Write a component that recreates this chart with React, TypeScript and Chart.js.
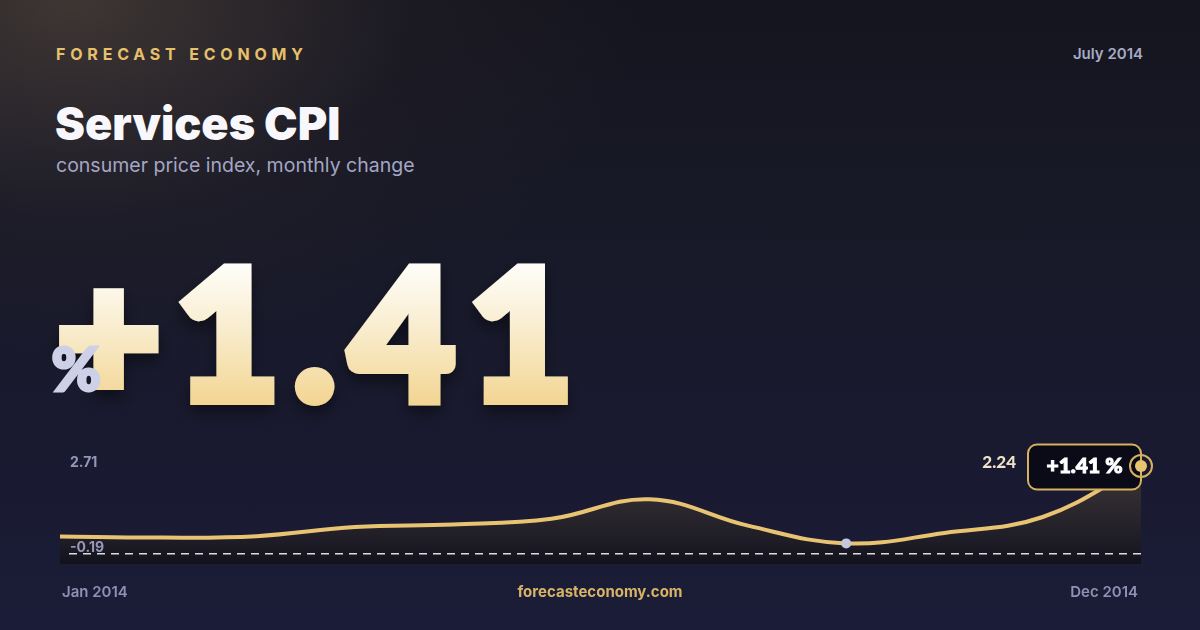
import React, { useEffect, useRef } from "react";
import { Chart, registerables } from "chart.js";

Chart.register(...registerables);

// ---- data ----
const MONTHS = [
  "Jan 2014", "Feb 2014", "Mar 2014", "Apr 2014", "May 2014", "Jun 2014",
  "Jul 2014", "Aug 2014", "Sep 2014", "Oct 2014", "Nov 2014", "Dec 2014",
];
const CPI_VALUES = [0.29, 0.26, 0.3, 0.55, 0.62, 0.78, 1.32, 0.59, 0.1, 0.39, 0.83, 2.24];
const RANGE_LABELS = [2.71, -0.19]; // top label, dashed baseline label
const AXIS_MIN = -0.47;
const HEADLINE_VALUE = 1.41;
const PERIOD_LABEL = "July 2014";

const GOLD = "#e8c372";
const INTER = "Inter, 'Noto Sans', sans-serif";
const LATO = "Lato, 'DejaVu Sans', sans-serif";

const fmtSigned = (v: number) => (v >= 0 ? "+" : "") + v.toFixed(2);

const overlayPlugin = {
  id: "overlay",
  afterDatasetsDraw(chart: any) {
    const { ctx, chartArea, scales } = chart;
    const ys = scales.y;
    const meta = chart.getDatasetMeta(0);
    const pts = meta.data;
    ctx.save();

    // dashed baseline at lower range value
    const by = ys.getPixelForValue(RANGE_LABELS[1]);
    ctx.setLineDash([8, 6]);
    ctx.strokeStyle = "rgba(255,255,255,0.85)";
    ctx.lineWidth = 1.5;
    ctx.beginPath();
    ctx.moveTo(chartArea.left + 9, by);
    ctx.lineTo(chartArea.right + 5, by);
    ctx.stroke();
    ctx.setLineDash([]);

    // range labels
    ctx.font = `700 14px ${INTER}`;
    ctx.fillStyle = "#9597b9";
    ctx.textAlign = "left";
    ctx.textBaseline = "alphabetic";
    ctx.fillText(RANGE_LABELS[0].toFixed(2), chartArea.left + 10, ys.getPixelForValue(RANGE_LABELS[0]) + 17.7);
    ctx.fillText(RANGE_LABELS[1].toFixed(2), chartArea.left + 10, by - 1.5);

    // minimum point marker
    let minIdx = 0;
    CPI_VALUES.forEach((v, i) => {
      if (v < CPI_VALUES[minIdx]) minIdx = i;
    });
    const mp = pts[minIdx];
    ctx.fillStyle = "#c4c7df";
    ctx.beginPath();
    ctx.arc(mp.x, mp.y, 5, 0, Math.PI * 2);
    ctx.fill();

    // end badge
    const last = pts[pts.length - 1];
    const bw = 113;
    const bh = 45;
    const bx = last.x - bw;
    const byy = last.y - bh / 2 + 1;
    ctx.beginPath();
    ctx.roundRect(bx, byy, bw, bh, 9);
    ctx.fillStyle = "#0a0b17";
    ctx.fill();
    ctx.strokeStyle = "#d6b160";
    ctx.lineWidth = 2;
    ctx.stroke();

    ctx.lineJoin = "miter";
    ctx.font = `900 21px ${LATO}`;
    ctx.fillStyle = "#ffffff";
    ctx.strokeStyle = "#ffffff";
    ctx.lineWidth = 1;
    ctx.textAlign = "center";
    const badgeText = fmtSigned(HEADLINE_VALUE) + " %";
    ctx.fillText(badgeText, bx + bw / 2, last.y + 6.6);
    ctx.strokeText(badgeText, bx + bw / 2, last.y + 6.6);

    ctx.font = `900 17px ${LATO}`;
    ctx.fillStyle = "#efe2c6";
    ctx.textAlign = "right";
    const lastText = CPI_VALUES[CPI_VALUES.length - 1].toFixed(2);
    ctx.fillText(lastText, bx - 12, last.y + 1.8);

    // end ring marker
    ctx.strokeStyle = "#d6b160";
    ctx.lineWidth = 2;
    ctx.beginPath();
    ctx.arc(last.x, last.y, 11, 0, Math.PI * 2);
    ctx.stroke();
    ctx.fillStyle = GOLD;
    ctx.beginPath();
    ctx.arc(last.x, last.y, 6, 0, Math.PI * 2);
    ctx.fill();

    // first / last category labels
    ctx.font = `600 15px ${INTER}`;
    ctx.fillStyle = "#8e91b3";
    ctx.textAlign = "left";
    ctx.fillText(MONTHS[0], pts[0].x + 2, chartArea.bottom + 32.7);
    ctx.textAlign = "right";
    ctx.fillText(MONTHS[MONTHS.length - 1], last.x - 3, chartArea.bottom + 32.7);

    ctx.restore();
  },
};

function SparkChart() {
  const ref = useRef<HTMLCanvasElement | null>(null);
  useEffect(() => {
    if (!ref.current) return;
    const chart = new Chart(ref.current, {
      type: "line",
      data: {
        labels: MONTHS,
        datasets: [
          {
            data: CPI_VALUES,
            borderColor: GOLD,
            borderWidth: 4,
            tension: 0.4,
            pointRadius: 0,
            fill: "start",
            backgroundColor: (context: any) => {
              const { chart } = context;
              const area = chart.chartArea;
              if (!area) return "rgba(0,0,0,0)";
              const g = chart.ctx.createLinearGradient(0, area.top, 0, area.bottom);
              g.addColorStop(0, "#463d32");
              g.addColorStop(0.45, "#2f2a2f");
              g.addColorStop(0.8, "#1e1c26");
              g.addColorStop(1, "#12121d");
              return g;
            },
          },
        ],
      },
      options: {
        animation: false,
        responsive: false,
        devicePixelRatio: 1,
        layout: { padding: { left: 60, right: 59, top: 29, bottom: 66 } },
        plugins: { legend: { display: false }, tooltip: { enabled: false } },
        scales: {
          x: { display: false },
          y: { display: false, min: AXIS_MIN, max: RANGE_LABELS[0] },
        },
      },
      plugins: [overlayPlugin],
    });
    return () => chart.destroy();
  }, []);
  return (
    <canvas
      ref={ref}
      width={1200}
      height={210}
      style={{ position: "absolute", left: 0, top: 420, width: 1200, height: 210 }}
    />
  );
}

function BigValue() {
  return (
    <svg
      width={1200}
      height={630}
      style={{ position: "absolute", left: 0, top: 0, overflow: "visible" }}
    >
      <defs>
        <linearGradient id="bigGrad" gradientUnits="userSpaceOnUse" x1="0" y1="262" x2="0" y2="408">
          <stop offset="0" stopColor="#fffefa" />
          <stop offset="0.45" stopColor="#f9edcf" />
          <stop offset="1" stopColor="#f2d490" />
        </linearGradient>
        <filter id="bigShadow" x="-20%" y="-20%" width="140%" height="160%">
          <feDropShadow dx="0" dy="8" stdDeviation="8" floodColor="#000" floodOpacity="0.45" />
        </filter>
      </defs>
      <text
        x={56}
        y={400}
        fontFamily={LATO}
        fontWeight={900}
        fontSize={182}
        letterSpacing={13}
        fill="url(#bigGrad)"
        stroke="url(#bigGrad)"
        strokeWidth={10}
        strokeLinejoin="miter"
        filter="url(#bigShadow)"
      >
        {fmtSigned(HEADLINE_VALUE)}
      </text>
      <text
        x={51.5}
        y={390.5}
        fontFamily={LATO}
        fontWeight={900}
        fontSize={60}
        fill="#cdd0e6"
        stroke="#cdd0e6"
        strokeWidth={3}
        strokeLinejoin="miter"
      >
        %
      </text>
    </svg>
  );
}

export default function App() {
  return (
    <div
      style={{
        position: "fixed",
        left: 0,
        top: 0,
        width: 1200,
        height: 630,
        overflow: "hidden",
        background:
          "radial-gradient(ellipse 760px 480px at 6% 0%, rgba(120,100,80,0.42) 0%, rgba(60,50,50,0.15) 45%, rgba(0,0,0,0) 75%), linear-gradient(180deg, #15151f 0%, #181927 35%, #191a30 70%, #1b1c37 100%)",
        fontFamily: INTER,
      }}
    >
      <div
        style={{
          position: "absolute",
          left: 56,
          top: 45.5,
          fontSize: 16,
          lineHeight: 1,
          fontWeight: 700,
          letterSpacing: 4.8,
          color: "#e6c06c",
          whiteSpace: "nowrap",
        }}
      >
        FORECAST ECONOMY
      </div>
      <div
        style={{
          position: "absolute",
          right: 57,
          top: 46.3,
          fontSize: 15,
          lineHeight: 1,
          fontWeight: 600,
          color: "#a8aac6",
          whiteSpace: "nowrap",
        }}
      >
        {PERIOD_LABEL}
      </div>
      <div
        style={{
          position: "absolute",
          left: 55,
          top: 101,
          fontSize: 45,
          lineHeight: 1,
          fontWeight: 900,
          letterSpacing: 0,
          color: "#f8f8fc",
          whiteSpace: "nowrap",
        }}
      >
        Services CPI
      </div>
      <div
        style={{
          position: "absolute",
          left: 56,
          top: 156,
          fontSize: 19.5,
          lineHeight: 1,
          fontWeight: 400,
          color: "#a4a6c4",
          whiteSpace: "nowrap",
        }}
      >
        consumer price index, monthly change
      </div>

      <BigValue />

      <SparkChart />

      <div
        style={{
          position: "absolute",
          left: 0,
          width: 1200,
          textAlign: "center",
          top: 583.7,
          fontSize: 15,
          lineHeight: 1,
          fontWeight: 700,
          color: "#d8b466",
          whiteSpace: "nowrap",
        }}
      >
        forecasteconomy.com
      </div>
    </div>
  );
}
